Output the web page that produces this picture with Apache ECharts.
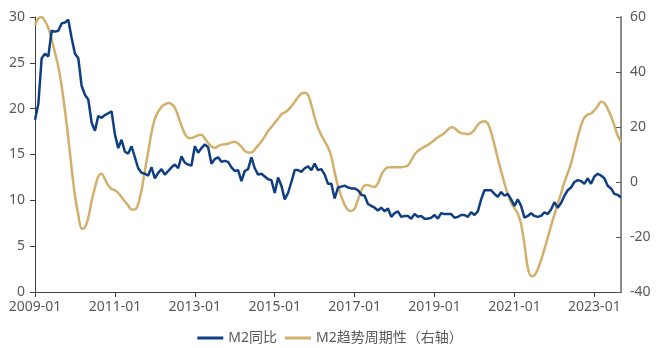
<!DOCTYPE html>
<html><head><meta charset="utf-8">
<script src="https://cdn.jsdelivr.net/npm/echarts@6/dist/echarts.min.js"></script>
<style>html,body{margin:0;padding:0;background:#fff}#c{width:660px;height:348px}</style>
</head><body><div id="c"></div>
<script>
// months 2009-01 .. 2023-09
const startYear = 2009;
const monthCount = 177;
const categories = [];
for (let i = 0; i < monthCount; i++) {
  const y = startYear + Math.floor(i / 12), m = i % 12 + 1;
  categories.push(y + '-' + (m < 10 ? '0' + m : m));
}
const seriesNames = ['M2同比', 'M2趋势周期性（右轴）'];
// M2 YoY (%), left axis
const m2Yoy = [
  18.8, 20.5, 25.5, 26.0, 25.7, 28.5, 28.4, 28.5, 29.3, 29.4, 29.7, 27.7,
  26.0, 25.5, 22.5, 21.5, 21.0, 18.5, 17.6, 19.2, 19.0, 19.3, 19.5, 19.7,
  17.2, 15.7, 16.6, 15.3, 15.1, 15.9, 14.7, 13.5, 13.0, 12.9, 12.7, 13.6,
  12.4, 13.0, 13.4, 12.8, 13.2, 13.6, 13.9, 13.5, 14.8, 14.1, 13.9, 13.8,
  15.9, 15.2, 15.7, 16.1, 15.8, 14.0, 14.5, 14.7, 14.2, 14.3, 14.2, 13.6,
  13.2, 13.3, 12.1, 13.2, 13.4, 14.7, 13.5, 12.8, 12.9, 12.6, 12.3, 12.2,
  10.8, 12.5, 11.6, 10.1, 10.8, 12.0, 13.3, 13.3, 13.1, 13.5, 13.7, 13.3,
  14.0, 13.3, 13.4, 12.8, 11.8, 11.8, 10.2, 11.4, 11.5, 11.6, 11.4, 11.3,
  11.3, 11.1, 10.6, 10.5, 9.6, 9.4, 9.2, 8.9, 9.2, 8.8, 9.1, 8.2,
  8.6, 8.8, 8.2, 8.3, 8.3, 8.0, 8.5, 8.2, 8.3, 8.0, 8.0, 8.1,
  8.4, 8.0, 8.6, 8.5, 8.5, 8.5, 8.1, 8.2, 8.4, 8.4, 8.2, 8.7,
  8.4, 8.8, 10.1, 11.1, 11.1, 11.1, 10.7, 10.4, 10.9, 10.5, 10.7, 10.1,
  9.4, 10.1, 9.4, 8.1, 8.3, 8.6, 8.3, 8.2, 8.3, 8.7, 8.5, 9.0,
  9.8, 9.2, 9.7, 10.5, 11.1, 11.4, 12.0, 12.2, 12.1, 11.8, 12.4, 11.8,
  12.6, 12.9, 12.7, 12.4, 11.6, 11.3, 10.7, 10.6, 10.3
];
// M2 trend-cycle component, right axis
const m2Cycle = [
  57, 59.5, 60, 58.5, 56, 52, 47, 42, 35, 26, 16, 5,
  -5, -12, -17, -16.5, -13, -7, -2, 2, 3, 1, -1.3, -2.5,
  -3, -4, -5.5, -7, -8.6, -10, -10, -8, -3, 4, 11, 18,
  23, 25.5, 27.3, 28.2, 28.7, 28.4, 27, 24, 20.5, 17.5, 16.1, 16.0,
  16.4, 17.0, 17.2, 15.8, 14.2, 12.9, 12.4, 13.0, 13.6, 13.7, 13.9, 14.4,
  14.6, 14.0, 12.8, 11.3, 10.7, 10.7, 11.8, 13.3, 14.7, 16.5, 18.5, 20,
  21.5, 23, 24.6, 25.3, 26.2, 27.5, 29.2, 30.8, 32.2, 32.5, 31.7, 28,
  23.5, 19.7, 17.0, 14.8, 12.6, 9.2, 3.5, -1.5, -5.2, -8.3, -10.2, -10.5,
  -9.7, -6.5, -3.2, -1.2, -1.1, -1.6, -1.8, -0.5, 2.5, 4.5, 5.3, 5.4,
  5.4, 5.4, 5.4, 5.6, 6, 7.9, 10, 11.3, 12.1, 12.8, 13.5, 14.4,
  15.3, 16.3, 17.0, 17.8, 19.1, 19.9, 19.6, 18.5, 17.8, 17.6, 17.4, 17.8,
  19.0, 20.8, 21.8, 22.1, 21.3, 18.0, 13.5, 8.5, 4, -0.5, -4.5, -7.5,
  -9.5, -11.5, -15.3, -22.6, -31.1, -34.2, -34, -31.7, -28.4, -24.4, -20.2, -15.9,
  -11.9, -8.0, -4.1, -0.1, 3.2, 6.8, 11.5, 16.3, 20.6, 23.4, 24.5, 24.9,
  26.1, 27.6, 29.2, 28.7, 26.7, 23.9, 20.6, 16.9, 14.5
];
const leftTicks = {min: 0, max: 30, interval: 5};
const rightTicks = {min: -40, max: 60, interval: 20};

const txt = '#595959';
const font = "'Noto Sans', 'Noto Sans CJK SC', sans-serif";
const chart = echarts.init(document.getElementById('c'), null, {renderer: 'canvas'});
chart.setOption({
  animation: false,
  textStyle: {fontFamily: font},
  grid: {left: 35, right: 39, top: 17, bottom: 56, containLabel: false},
  legend: {
    data: seriesNames, left: 'center', top: 326, icon: 'rect',
    itemWidth: 26, itemHeight: 3, itemGap: 8,
    textStyle: {color: txt, fontSize: 14, fontFamily: font}
  },
  xAxis: {
    type: 'category', data: categories, boundaryGap: false,
    axisLine: {lineStyle: {color: '#404040', width: 1}},
    axisTick: {interval: 23, length: 5, lineStyle: {color: '#404040'}},
    axisLabel: {interval: 23, color: txt, fontSize: 14, margin: 8, fontFamily: font}
  },
  yAxis: [
    {
      type: 'value', min: leftTicks.min, max: leftTicks.max, interval: leftTicks.interval,
      splitLine: {show: false},
      axisLine: {show: true, lineStyle: {color: '#404040', width: 1}},
      axisTick: {show: true, length: 5, lineStyle: {color: '#404040'}},
      axisLabel: {color: txt, fontSize: 14, margin: 10, fontFamily: font}
    },
    {
      type: 'value', min: rightTicks.min, max: rightTicks.max, interval: rightTicks.interval,
      position: 'right', splitLine: {show: false},
      axisLine: {show: true, lineStyle: {color: '#8c8c8c', width: 2}},
      axisTick: {show: true, inside: true, length: 5, lineStyle: {color: '#595959'}},
      axisLabel: {color: txt, fontSize: 14, margin: 9, fontFamily: font}
    }
  ],
  series: [
    {
      name: seriesNames[0], type: 'line', yAxisIndex: 0, data: m2Yoy,
      showSymbol: false, itemStyle: {color: '#0f3f82'},
      lineStyle: {color: '#0f3f82', width: 2.5}, z: 3
    },
    {
      name: seriesNames[1], type: 'line', yAxisIndex: 1, data: m2Cycle,
      showSymbol: false, smooth: 0.3, itemStyle: {color: '#d2b06c'},
      lineStyle: {color: '#d2b06c', width: 2.5}, z: 2
    }
  ]
});
</script></body></html>
